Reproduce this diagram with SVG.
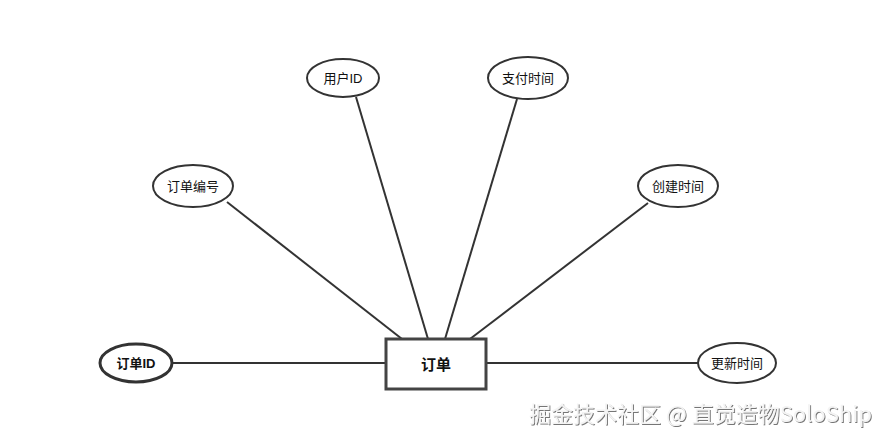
<svg xmlns="http://www.w3.org/2000/svg" width="891" height="442" viewBox="0 0 891 442">
<defs>
<style>
.attr ellipse{fill:#fff;stroke:#333;stroke-width:2}
.lbl{font-family:"Liberation Sans","Noto Sans CJK SC",sans-serif;font-size:13px;fill:#111;text-anchor:middle;dominant-baseline:central}
.conn line{stroke:#333;stroke-width:2}
</style>
<filter id="sh" x="-5%" y="-20%" width="110%" height="150%"><feDropShadow dx="1" dy="1" stdDeviation="0.6" flood-color="#555" flood-opacity="0.8"/></filter>
</defs>
<rect width="891" height="442" fill="#fff"/>
<g id="connectors" class="conn">
<line x1="172" y1="363" x2="386" y2="363"/>
<line x1="486" y1="363" x2="698" y2="363"/>
<line x1="356" y1="97" x2="428" y2="339"/>
<line x1="517" y1="99" x2="445" y2="339"/>
<line x1="227" y1="202" x2="402" y2="339"/>
<line x1="648" y1="203" x2="470" y2="339"/>
</g>
<g id="entity-order">
<rect x="386" y="339" width="100" height="50" fill="#fff" stroke="#444" stroke-width="3"/>
<text x="436" y="364" class="lbl" style="font-size:15px;font-weight:bold">订单</text>
</g>
<g id="attr-orderid" class="attr">
<ellipse cx="136" cy="363" rx="36" ry="19" style="stroke-width:3"/>
<text x="136" y="363" class="lbl" style="font-weight:bold">订单ID</text>
</g>
<g id="attr-userid" class="attr">
<ellipse cx="343" cy="78" rx="36" ry="19"/>
<text x="343" y="78" class="lbl">用户ID</text>
</g>
<g id="attr-orderno" class="attr">
<ellipse cx="193" cy="186" rx="40" ry="21"/>
<text x="193" y="186" class="lbl">订单编号</text>
</g>
<g id="attr-paytime" class="attr">
<ellipse cx="528" cy="78" rx="40" ry="21"/>
<text x="528" y="78" class="lbl">支付时间</text>
</g>
<g id="attr-createtime" class="attr">
<ellipse cx="678" cy="186" rx="40" ry="21"/>
<text x="678" y="186" class="lbl">创建时间</text>
</g>
<g id="attr-updatetime" class="attr">
<ellipse cx="737" cy="363" rx="39" ry="20"/>
<text x="737" y="363" class="lbl">更新时间</text>
</g>
<text x="529" y="422" filter="url(#sh)" style="font-family:'Noto Sans CJK SC','Noto Sans',sans-serif;font-size:22px;fill:#f4f4f4">掘金技术社区 @ 直觉造物SoloShip</text>
</svg>
